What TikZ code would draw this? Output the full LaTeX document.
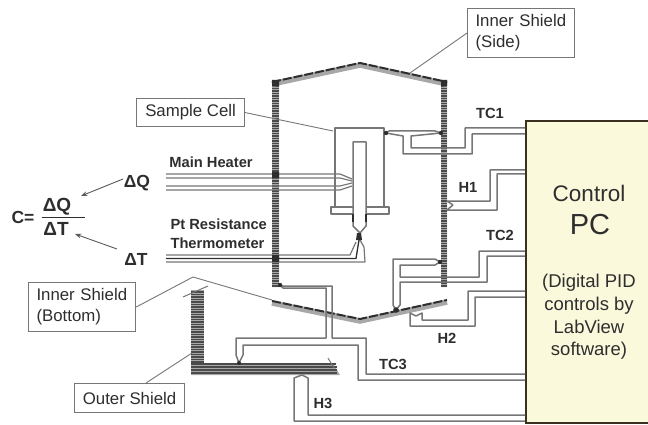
\documentclass[tikz,border=0pt]{standalone}
\usepackage{fontspec}
\setmainfont{Liberation Sans}
\usepackage{xcolor}
\usetikzlibrary{calc,arrows.meta,positioning}
\definecolor{wirec}{HTML}{767676}
\definecolor{deepc}{HTML}{2E2E2E}
\definecolor{pcbg}{HTML}{FAF9DC}
\definecolor{pcedge}{HTML}{3A3020}
\definecolor{stripec}{HTML}{A8A8A8}
\definecolor{hatchc}{HTML}{4A4A4A}
\tikzset{
  wire/.style={draw=wirec,line width=1.5pt,line join=round},
  leader/.style={draw=wirec,line width=0.9pt},
  tagbox/.style={draw=wirec,line width=1.1pt,fill=white,align=left,inner sep=0pt,text=deepc,font=\fontsize{16.8}{21}\selectfont},
  wirename/.style={font=\fontsize{14.7}{18.5}\selectfont\bfseries,text=deepc,align=left},
  bigname/.style={font=\fontsize{17.5}{21}\selectfont\bfseries,text=deepc},
  ar/.style={-{Stealth[length=2.2mm]},draw=deepc!80,line width=0.9pt},
  band/.style={draw=stripec,line width=5.5pt,line join=miter},
  bandtop/.style={draw=deepc,line width=2pt,dash pattern=on 9pt off 2pt},
  joint/.style={fill=deepc}
}
\begin{document}
\begin{tikzpicture}[x=1pt,y=-1pt]
\useasboundingbox (0,0) rectangle (648,425);
% control computer
\node[draw=pcedge,line width=2pt,fill=pcbg,minimum width=130pt,minimum height=302pt,anchor=north west,inner sep=0pt] (pc) at (525,120) {};
\node[font=\fontsize{22.5}{26}\selectfont,text=deepc] (pctitle) at (589,193) {Control};
\node[font=\fontsize{29}{32}\selectfont,text=deepc] (pcname) at (590,225) {PC};
\node[font=\fontsize{18.5}{22.7}\selectfont,align=center,text=deepc] (pctext) at (589,317) {(Digital PID\\controls by\\LabView\\software)};
% inner shield, side walls and roof
\fill[stripec] (272,82) rectangle (279,287) (441,82) rectangle (447,287);
\foreach \yy in {86,88.5,...,286} {
  \draw[hatchc,line width=1.1pt] (272,\yy)--(279,\yy);
  \draw[hatchc,line width=1.1pt] (441,\yy)--(447,\yy);
}
\draw[band] (272,84)--(360,65)--(447,84);
\draw[bandtop] (272,82)--(360,63)--(447,82);
\fill[deepc] (272,80) rectangle (279,86) (441,80) rectangle (447,86);
% inner shield, bottom
\draw[band] (272,303)--(360,321)--(447,302);
\draw[bandtop] (272,301)--(360,319)--(447,300);
% outer shield
\fill[stripec] (191,290) rectangle (204,368);
\foreach \yy in {292,294.5,...,364} \draw[hatchc,line width=1.1pt] (191,\yy)--(204,\yy);
\draw[wirec,line width=1pt] (183,297)--(208,286);
\fill[stripec] (191,363)--(333,363)--(340,375)--(191,375)--cycle;
\foreach \yy in {364,367,...,374} \draw[hatchc,line width=1.3pt] (191,\yy)--(300+\yy/10,\yy);
\draw[wirec,line width=1pt] (328,358)--(334,368);
% sample cell
\draw[wire,fill=white] (335,207)--(335,128)--(384,128)--(384,207);
\draw[wire,fill=white] (331,207) rectangle (389,214);
\draw[wire,fill=white] (353,226)--(353,142)--(366,142)--(366,226)--(360,233)--cycle;
\draw[deepc,line width=1.5pt] (353,214)--(353,222) (366,214)--(366,222);
% heater and thermometer leads
\draw[wire,line width=1.2pt] (166,174)--(340,174)--(352,179) (166,178)--(340,178)--(352,181)
  (166,186)--(340,186)--(352,183) (166,190)--(340,190)--(352,186);
\draw[wire,line width=1.2pt] (166,255)--(350,255)--(356,242) (166,262)--(365,262)--(364,247)--(360,240);
\draw[deepc,line width=1.3pt] (166,258.5)--(356,258.5)--(359,240);
\fill[joint] (272,172) rectangle (279,178) (272,255) rectangle (279,262);
\fill[joint] (357,233)--(361,233)--(362,240)--(356,240)--cycle;
% TC1
\coordinate (tcl) at (386,133);
\coordinate (tcr) at (441,133);
\draw[wire] (tcl)--(389,131)--(435,131)--(tcr);
\draw[wire] (tcl)--(403,136)--(403,154)--(472,154)--(472,134)--(525,134);
\draw[wire] (tcr)--(411,136)--(411,148)--(465,148)--(465,128)--(525,128);
\fill[joint] (tcl) circle (2.2pt) (tcr) circle (2.2pt);
% H1
\draw[wire] (453,205)--(447,201)--(490,201)--(490,170)--(525,170);
\draw[wire] (453,205)--(447,210)--(497,210)--(497,174)--(525,174);
% TC2
\coordinate (tcm) at (440,262);
\coordinate (tcb) at (396,310);
\draw[wire] (tcm)--(435,259)--(393,259)--(393,305)--(tcb);
\draw[wire] (tcm)--(435,265)--(400,265)--(400,277)--(479,277)--(479,251)--(525,251);
\draw[wire] (tcb)--(400,305)--(400,282)--(487,282)--(487,256)--(525,256);
\fill[joint] (tcm) circle (2.2pt) (tcb) circle (2.8pt);
% H2
\draw[wire] (416,316)--(410,313)--(410,326)--(475,326)--(475,297)--(525,297);
\draw[wire] (416,316)--(422,313)--(422,320)--(468,320)--(468,291)--(525,291);
% TC3
\coordinate (tcs) at (280,285);
\coordinate (tco) at (239,363);
\draw[wire] (tcs)--(283,286)--(332,286)--(332,338)--(366,338)--(366,374)--(525,374);
\draw[wire] (tcs)--(283,288)--(326,288)--(326,338)--(236,338)--(236,355)--(tco);
\draw[wire] (tco)--(243,355)--(243,345)--(358,345)--(358,380)--(525,380);
\fill[joint] (tcs) circle (2.2pt) (tco) circle (2pt);
% H3
\draw[wire] (302,375)--(294,378)--(294,421)--(525,421);
\draw[wire] (302,375)--(308,378)--(308,415)--(525,415);
% labels with leaders
\node[tagbox,minimum width=107pt,minimum height=49pt,anchor=north west,text width=91pt] (sidetag) at (467,8) {Inner Shield\\(Side)};
\coordinate (sidepoint) at (410,73);
\draw[leader] (sidetag.west)--(sidepoint);
\node[tagbox,minimum width=108pt,minimum height=28pt,anchor=north west,align=center] (celltag) at (136,98) {Sample Cell};
\coordinate (cellpoint) at (333,131);
\draw[leader] (celltag.east)--(cellpoint);
\node[tagbox,minimum width=107pt,minimum height=49pt,anchor=north west,text width=91pt] (bottomtag) at (28,282) {Inner Shield\\(Bottom)};
\coordinate (bottombend) at (193,277);
\coordinate (bottompoint) at (272,300);
\draw[leader] (bottomtag.east)--(bottombend)--(bottompoint);
\node[tagbox,minimum width=110pt,minimum height=29pt,anchor=north west,align=center] (outertag) at (74,383) {Outer Shield};
\coordinate (outerpoint) at (192,353);
\coordinate (outerfoot) at (146,383);
\draw[leader] (outerfoot)--(outerpoint);
% wire names
\node[wirename] (maintxt) at (211,162) {Main Heater};
\node[wirename,anchor=west] (pttxt) at (167,233.5) {Pt Resistance\\Thermometer};
\node[wirename] (tconetxt) at (490,113) {TC1};
\node[wirename] (honetxt) at (468,187) {H1};
\node[wirename] (tctwotxt) at (500,235) {TC2};
\node[wirename] (htwotxt) at (447,338) {H2};
\node[wirename] (tcthreetxt) at (393,364) {TC3};
\node[wirename] (hthreetxt) at (323,403) {H3};
% formula
\node[bigname] (cq) at (137,183) {ΔQ};
\node[bigname] (ct) at (136,259) {ΔT};
\node[bigname] (ceq) at (23,217) {C=};
\node[bigname,font=\fontsize{19}{21}\selectfont\bfseries] (fq) at (57,207) {ΔQ};
\node[bigname,font=\fontsize{19}{21}\selectfont\bfseries] (ft) at (56,229) {ΔT};
\draw[deepc,line width=1.3pt] (42,217.5)--(85,217.5);
\coordinate (fqtip) at (81,196);
\coordinate (fttip) at (75,234);
\coordinate (ctstart) at (117,249);
\coordinate (cqstart) at (123,179);
\draw[ar] (cqstart)--(fqtip);
\draw[ar] (ctstart)--(fttip);
\end{tikzpicture}
\end{document}
